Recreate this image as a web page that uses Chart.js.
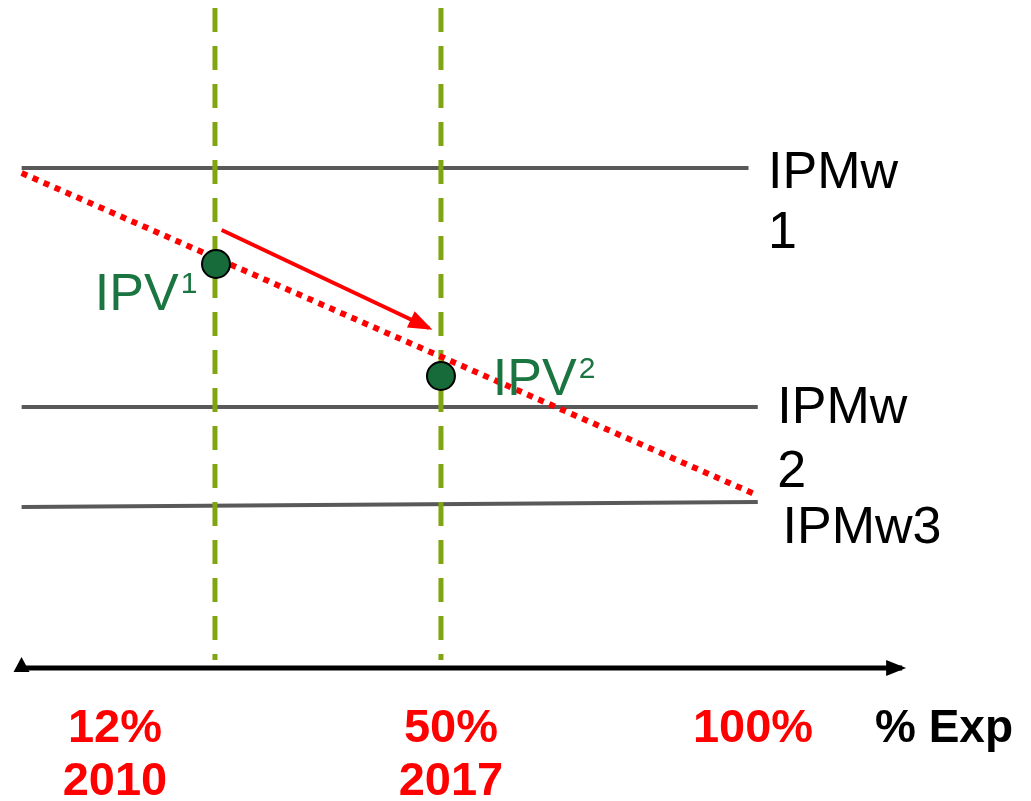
<!DOCTYPE html>
<html>
<head>
<meta charset="utf-8">
<script src="https://cdn.jsdelivr.net/npm/chart.js@4/dist/chart.umd.min.js"></script>
<style>
  html, body { margin: 0; padding: 0; background: #fff; }
  #wrap { position: relative; width: 1031px; height: 801px; }
</style>
</head>
<body>
<div id="wrap"><canvas id="expChart"></canvas></div>
<script>
// x runs 0-100 across the figure, y is the level above the % Exp axis
const levelLabels = [["IPMw", "1"], ["IPMw", "2"], ["IPMw3"]];
const levelStartX = [2.1, 2.1, 2.1];
const levelEndX = [72.6, 73.5, 73.5];
const levelStartY = [5.0, 2.61, 1.61];
const levelEndY = [5.0, 2.61, 1.66];
const levelLabelX = [74.5, 75.4, 75.9];
const levelLabelY = [[4.80, 4.20], [2.45, 1.81], [1.25]];

const trendX = [2.1, 73.4];
const trendY = [4.95, 1.73];

const yearLineX = [20.85, 42.77];
const yearLineY = [6.60, 0.08];

const ipvNames = ["IPV", "IPV"];
const ipvSup = ["1", "2"];
const ipvX = [20.95, 42.77];
const ipvY = [4.04, 2.92];
const ipvLabelX = [9.2, 47.8];
const ipvLabelY = [3.58, 2.73];

const shiftX = [21.5, 41.6];
const shiftY = [4.38, 3.40];

const axisX = [1.7, 87.5];
const axisY = [0, 0];
const axisTitle = "% Exp";
const axisTitleX = 91.56;

const tickX = [11.15, 43.74, 73.04];
const tickPct = ["12%", "50%", "100%"];
const tickYear = ["2010", "2017", ""];
const tickPctY = -0.74;
const tickYearY = -1.27;

const pts = (xs, ys) => xs.map((x, i) => ({ x: x, y: ys[i] }));

const datasets = [];
// markers on top
datasets.push({
    data: pts(ipvX, ipvY),
    showLine: false,
    pointRadius: 14,
    pointBackgroundColor: "#176a39",
    pointBorderColor: "#000",
    pointBorderWidth: 2,
});
datasets.push({
    data: pts(shiftX, shiftY),
    borderColor: "#ff0000",
    borderWidth: 4,
    pointRadius: 0,
    arrowEnd: { len: 20, half: 9, color: "#ff0000" },
});
datasets.push({
    data: pts(trendX, trendY),
    borderColor: "#ff0000",
    borderWidth: 6,
    borderDash: [6, 6],
    pointRadius: 0,
});
yearLineX.forEach((x) => {
    datasets.push({
        data: pts([x, x], yearLineY),
        borderColor: "#80a512",
        borderWidth: 5,
        borderDash: [24, 14],
        pointRadius: 0,
    });
});
levelStartX.forEach((x, i) => {
    datasets.push({
        data: pts([x, levelEndX[i]], [levelStartY[i], levelEndY[i]]),
        borderColor: "#595959",
        borderWidth: 4,
        pointRadius: 0,
    });
});
datasets.push({
    data: pts(axisX, axisY),
    borderColor: "#000",
    borderWidth: 5,
    pointRadius: 0,
    arrowEnd: { len: 16, half: 8, color: "#000" },
    arrowStartUp: { half: 8, height: 15, color: "#000" },
});

const annotate = {
    id: "annotate",
    afterDatasetsDraw(chart) {
        const ctx = chart.ctx;
        const xs = chart.scales.x;
        const ys = chart.scales.y;

        chart.data.datasets.forEach((ds, i) => {
            const meta = chart.getDatasetMeta(i);
            const p = meta.data;
            if (ds.arrowEnd) {
                const a = p[p.length - 2], b = p[p.length - 1];
                const ang = Math.atan2(b.y - a.y, b.x - a.x);
                const L = ds.arrowEnd.len, H = ds.arrowEnd.half;
                ctx.save();
                ctx.fillStyle = ds.arrowEnd.color;
                ctx.translate(b.x, b.y);
                ctx.rotate(ang);
                ctx.beginPath();
                ctx.moveTo(4, 0);
                ctx.lineTo(-L, -H);
                ctx.lineTo(-L, H);
                ctx.closePath();
                ctx.fill();
                ctx.restore();
            }
            if (ds.arrowStartUp) {
                const s = p[0];
                const h = ds.arrowStartUp;
                ctx.save();
                ctx.fillStyle = h.color;
                ctx.beginPath();
                ctx.moveTo(s.x + 4, s.y - h.height + 4);
                ctx.lineTo(s.x - h.half + 4, s.y + 4);
                ctx.lineTo(s.x + h.half + 4, s.y + 4);
                ctx.closePath();
                ctx.fill();
                ctx.restore();
            }
        });

        ctx.save();
        ctx.textBaseline = "alphabetic";

        // level labels
        ctx.fillStyle = "#000";
        ctx.font = "52px Arial, 'Liberation Sans', sans-serif";
        ctx.textAlign = "left";
        levelLabels.forEach((lines, i) => {
            lines.forEach((t, j) => {
                ctx.fillText(t, xs.getPixelForValue(levelLabelX[i]), ys.getPixelForValue(levelLabelY[i][j]));
            });
        });

        // IPV labels with superscripts
        ctx.fillStyle = "#1a7540";
        ipvNames.forEach((t, i) => {
            const px = xs.getPixelForValue(ipvLabelX[i]);
            const py = ys.getPixelForValue(ipvLabelY[i]);
            ctx.font = "52px Arial, 'Liberation Sans', sans-serif";
            ctx.fillText(t, px, py);
            const w = ctx.measureText(t).width;
            ctx.font = "30px Arial, 'Liberation Sans', sans-serif";
            ctx.fillText(ipvSup[i], px + w + 2, py - 17);
        });

        // axis ticks
        ctx.textAlign = "center";
        ctx.font = "bold 47px Arial, 'Liberation Sans', sans-serif";
        ctx.fillStyle = "#ff0000";
        tickX.forEach((x, i) => {
            const px = xs.getPixelForValue(x);
            ctx.fillText(tickPct[i], px, ys.getPixelForValue(tickPctY));
            if (tickYear[i]) ctx.fillText(tickYear[i], px, ys.getPixelForValue(tickYearY));
        });
        ctx.fillStyle = "#000";
        ctx.font = "bold 46px Arial, 'Liberation Sans', sans-serif";
        ctx.fillText(axisTitle, xs.getPixelForValue(axisTitleX), ys.getPixelForValue(tickPctY));
        ctx.restore();
    },
};

new Chart(document.getElementById("expChart"), {
    type: "line",
    data: { datasets: datasets },
    options: {
        responsive: true,
        maintainAspectRatio: false,
        animation: false,
        layout: { padding: 0, autoPadding: false },
        scales: {
            x: { type: "linear", min: 0, max: 100, display: false },
            y: { type: "linear", min: -1.33, max: 6.68, display: false },
        },
        plugins: {
            legend: { display: false },
            tooltip: { enabled: false },
        },
    },
    plugins: [annotate],
});
</script>
</body>
</html>
